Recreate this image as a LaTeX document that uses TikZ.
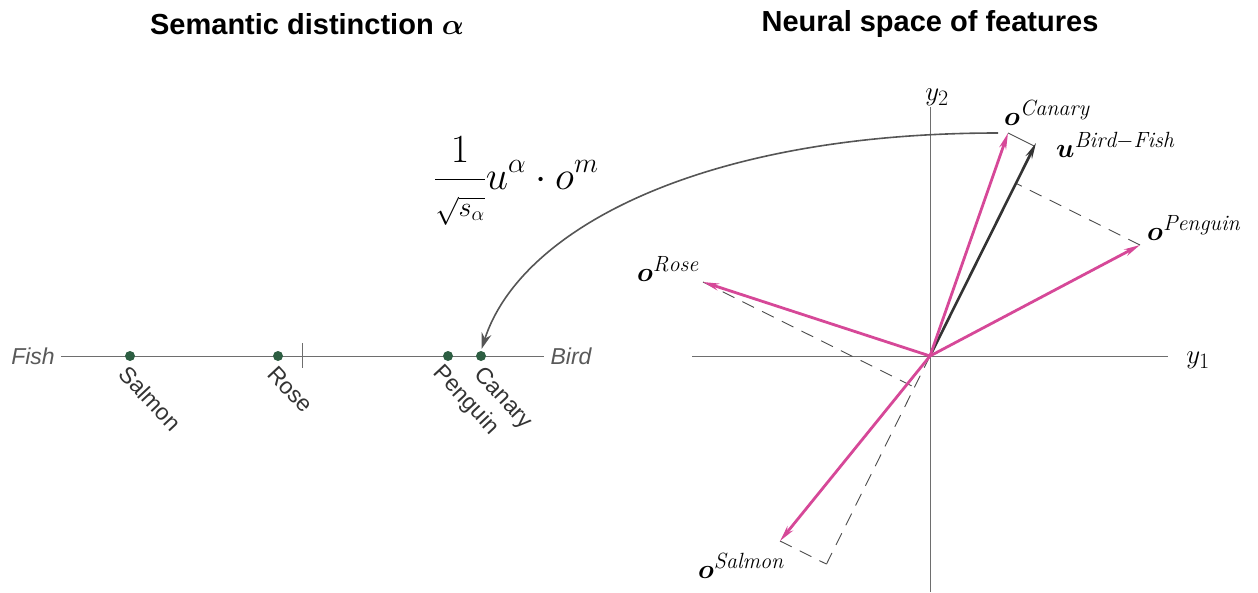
\RequirePackage{fix-cm}
\documentclass[tikz,border=0pt]{standalone}
\usepackage{amsmath,bm}
\usepackage{fontspec}
\setsansfont{Liberation Sans}
\usetikzlibrary{arrows.meta,calc,positioning}

\definecolor{vecpink}{RGB}{214,72,152}
\definecolor{dotgreen}{RGB}{45,94,66}
\definecolor{axisgray}{RGB}{110,110,110}
\definecolor{curvegray}{RGB}{85,85,85}
% larger superscripts for the vector labels
\DeclareMathSizes{27}{27}{22}{16}

\begin{document}
\begin{tikzpicture}[x=1pt,y=-1pt,
title/.style={font=\fontsize{29}{34}\selectfont\sffamily\bfseries},
endlabel/.style={font=\fontsize{23}{28}\selectfont\sffamily\itshape,text=black!65,inner sep=6pt},
item/.style={circle,fill=dotgreen,inner sep=0pt,minimum size=10pt},
itemlabel/.style={font=\fontsize{23}{27}\selectfont\sffamily,text=black!80,rotate=-47,anchor=north west,inner sep=0pt},
axis/.style={draw=axisgray,line width=0.9pt},
vec/.style={draw=vecpink,line width=2.8pt,-{Stealth[length=16pt,width=7pt]}},
proj/.style={draw=black!70,line width=0.9pt,dash pattern=on 13pt off 9pt},
veclabel/.style={font=\fontsize{27}{31}\selectfont,inner sep=0pt,anchor=base west}
]
\useasboundingbox (0,0) rectangle (1258,592);

% titles
\node[title] (lefttitle) at (307,24) {Semantic distinction $\boldsymbol{\alpha}$};
\node[title] (righttitle) at (930,24) {Neural space of features};

% semantic axis
\node[endlabel] (fish) at (33,356) {Fish};
\node[endlabel] (bird) at (571,356) {Bird};
\draw[axis] (fish) -- (bird);
\draw[axis] (302,343) -- (302,368);
\node[item] (salmon) at (130,356) {};
\node[item] (rose) at (278,356) {};
\node[item] (penguin) at (448,356) {};
\node[item] (canary) at (481,356) {};
\node[itemlabel] at (130,364) {Salmon};
\node[itemlabel] at (278,364) {Rose};
\node[itemlabel] at (445,362) {Penguin};
\node[itemlabel] at (485,364) {Canary};

% projection formula
\node[font=\fontsize{40}{46}\selectfont,anchor=west,inner sep=0pt] (formula) at (434,181)
  {$\displaystyle\frac{1}{\scriptstyle\sqrt{s_\alpha}}u^{\alpha}\cdot o^{m}$};

% neural space
\coordinate (O) at (930,356);
\draw[axis] (692,356) -- (1168,356);
\draw[axis] (930,107) -- (930,592);
\node[font=\fontsize{27}{32}\selectfont] (y1) at (1198,360) {$y_1$};
\node[font=\fontsize{27}{32}\selectfont] (y2) at (937,97) {$y_2$};

\coordinate (uBF) at (1036,143);
\coordinate (oCanary) at (1008,133);
\coordinate (oPenguin) at (1140,245);
\coordinate (oRose) at (703,282);
\coordinate (oSalmon) at (780,541);

% projections onto u
\coordinate (pCanary) at ($(O)!(oCanary)!(uBF)$);
\coordinate (pPenguin) at ($(O)!(oPenguin)!(uBF)$);
\coordinate (pRose) at ($(O)!(oRose)!(uBF)$);
\coordinate (pSalmon) at ($(O)!(oSalmon)!(uBF)$);
\draw[draw=black!70,line width=0.9pt] (oCanary) -- (pCanary);
\draw[proj] (oPenguin) -- (pPenguin);
\draw[proj] (oRose) -- (pRose);
\draw[proj] (oSalmon) -- (pSalmon);
\draw[proj] (O) -- (pSalmon);

\draw[draw=black!80,line width=2.6pt,-{Stealth[length=16pt,width=7pt]}] (O) -- (uBF);
\draw[vec] (O) -- (oCanary);
\draw[vec] (O) -- (oPenguin);
\draw[vec] (O) -- (oRose);
\draw[vec] (O) -- (oSalmon);

\node[veclabel] (lCanary) at (1004,125) {$\bm{o}^{\mathit{Canary}}$};
\node[veclabel] (lBF) at (1056,157) {$\bm{u}^{\mathit{Bird-Fish}}$};
\node[veclabel] (lPenguin) at (1147,240) {$\bm{o}^{\mathit{Penguin}}$};
\node[veclabel] (lRose) at (637,281) {$\bm{o}^{\mathit{Rose}}$};
\node[veclabel] (lSalmon) at (698,578) {$\bm{o}^{\mathit{Salmon}}$};

% readout curve
\coordinate (cstart) at (998,133);
\draw[draw=curvegray,line width=1.6pt,-{Stealth[length=16pt,width=10pt]},shorten >=2pt]
  (cstart) .. controls (700,133) and (520,230) .. (canary.north);
\end{tikzpicture}
\end{document}
